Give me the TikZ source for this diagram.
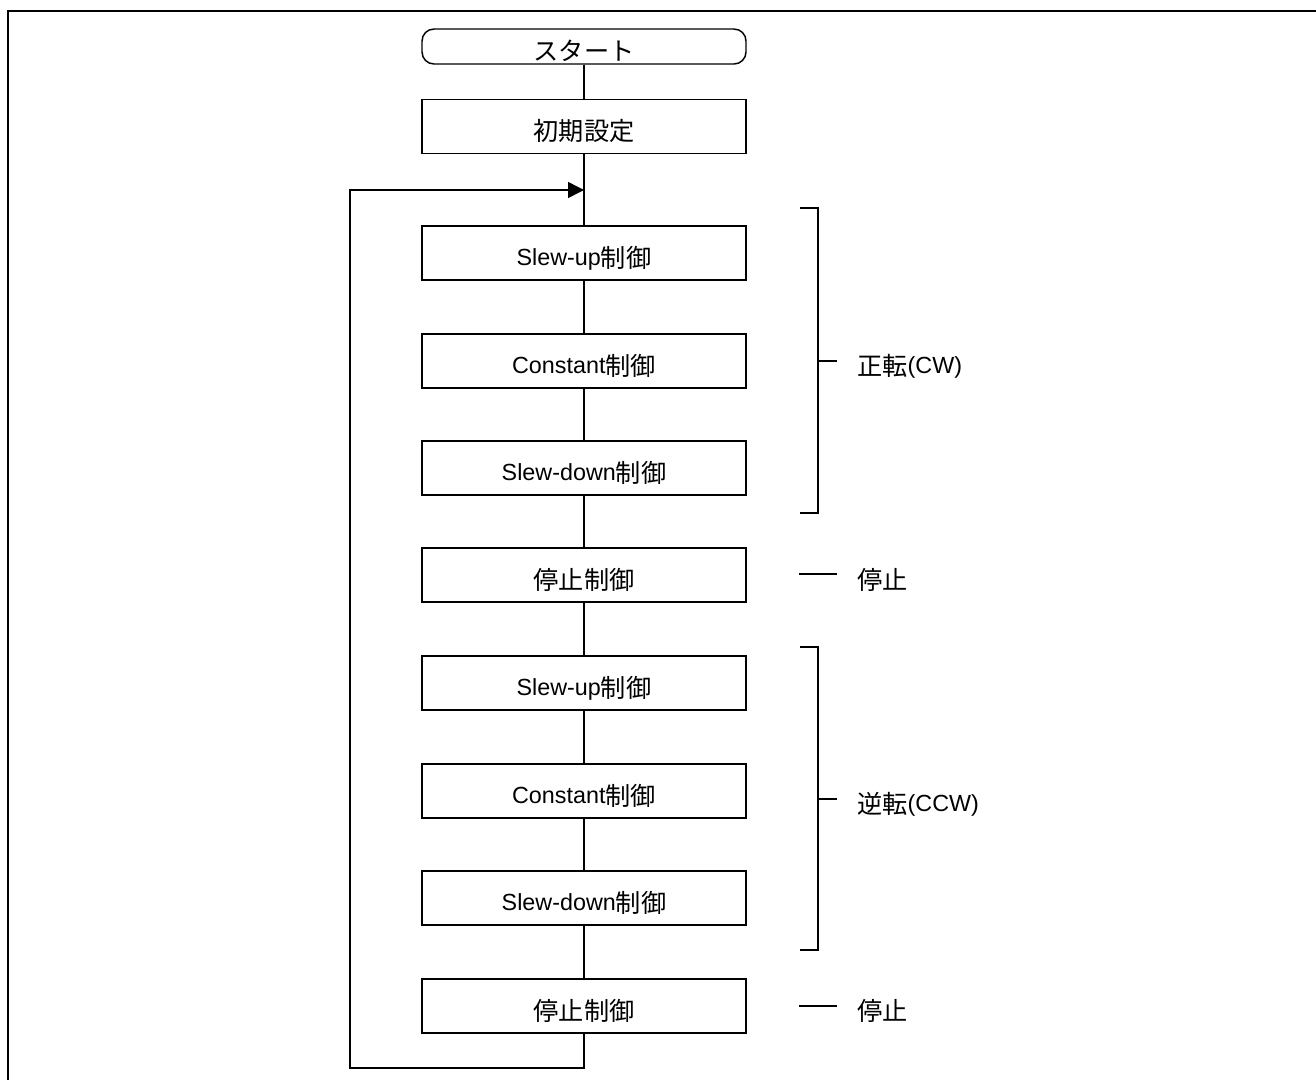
\documentclass[tikz,border=0pt]{standalone}
\usepackage{fontspec}
\setmainfont{Liberation Sans}
\newfontfamily\jpfont[Scale=1.08]{Noto Sans CJK JP}
\newcommand\jp[1]{\raisebox{-1.5pt}{\jpfont #1}}
\usetikzlibrary{arrows.meta}
\begin{document}
\begin{tikzpicture}[x=0.75pt,y=-0.75pt,
  font=\fontsize{17.5}{21}\selectfont,
  txt/.style={text height=18pt,text depth=0pt},
  procbox/.style={draw,txt,line width=1.1pt,minimum width=243pt,minimum height=40.5pt,inner sep=0pt},
  termbox/.style={draw,txt,line width=1.1pt,rounded corners=9pt,minimum width=243pt,minimum height=26.25pt,inner sep=0pt},
  flow/.style={line width=1.1pt},
  brk/.style={line width=1.6pt},
  lbl/.style={txt,anchor=west,inner sep=0pt}]
\useasboundingbox (0,0) rectangle (1316,1079);
\draw[line width=2pt] (8,1082) -- (8,11) -- (1320,11);

\node[termbox] (start) at (584,46.5) {\jp{スタート}};
\node[procbox] (init) at (584,126.5) {\jp{初期設定}};
\node[procbox] (b1) at (584,253) {Slew-up\jp{制御}};
\node[procbox] (b2) at (584,361) {Constant\jp{制御}};
\node[procbox] (b3) at (584,468) {Slew-down\jp{制御}};
\node[procbox] (b4) at (584,575) {\jp{停止制御}};
\node[procbox] (b5) at (584,683) {Slew-up\jp{制御}};
\node[procbox] (b6) at (584,791) {Constant\jp{制御}};
\node[procbox] (b7) at (584,898) {Slew-down\jp{制御}};
\node[procbox] (b8) at (584,1006) {\jp{停止制御}};

\coordinate (loopin) at (584,190);
\coordinate (lbr) at (584,1068);
\coordinate (lbl) at (350,1068);
\coordinate (ltl) at (350,190);

\draw[flow] (start) -- (init);
\draw[flow] (init) -- (b1);
\draw[flow] (b1) -- (b2);
\draw[flow] (b2) -- (b3);
\draw[flow] (b3) -- (b4);
\draw[flow] (b4) -- (b5);
\draw[flow] (b5) -- (b6);
\draw[flow] (b6) -- (b7);
\draw[flow] (b7) -- (b8);
\draw[flow,-{Triangle[length=12pt,width=12pt]}] (b8) -- (lbr) -- (lbl) -- (ltl) -- (loopin);

% bracket CW
\coordinate (c1t) at (800,208);
\coordinate (c1b) at (800,513);
\coordinate (c1m) at (818,361);
\draw[brk] (c1t) -- (818,208) -- (818,513) -- (c1b);
\draw[line width=1.1pt] (c1m) -- ++(19,0);
\node[lbl] (cw) at (857,361) {\jp{正転}(CW)};

% stop 1
\coordinate (s1) at (799,574);
\draw[line width=1.1pt] (s1) -- ++(38,0);
\node[lbl] (st1) at (857,575) {\jp{停止}};

% bracket CCW
\coordinate (c2t) at (800,647);
\coordinate (c2b) at (800,950);
\coordinate (c2m) at (818,799);
\draw[brk] (c2t) -- (818,647) -- (818,950) -- (c2b);
\draw[line width=1.1pt] (c2m) -- ++(19,0);
\node[lbl] (ccw) at (857,799) {\jp{逆転}(CCW)};

% stop 2
\coordinate (s2) at (799,1006);
\draw[line width=1.1pt] (s2) -- ++(38,0);
\node[lbl] (st2) at (857,1006) {\jp{停止}};
\end{tikzpicture}
\end{document}
